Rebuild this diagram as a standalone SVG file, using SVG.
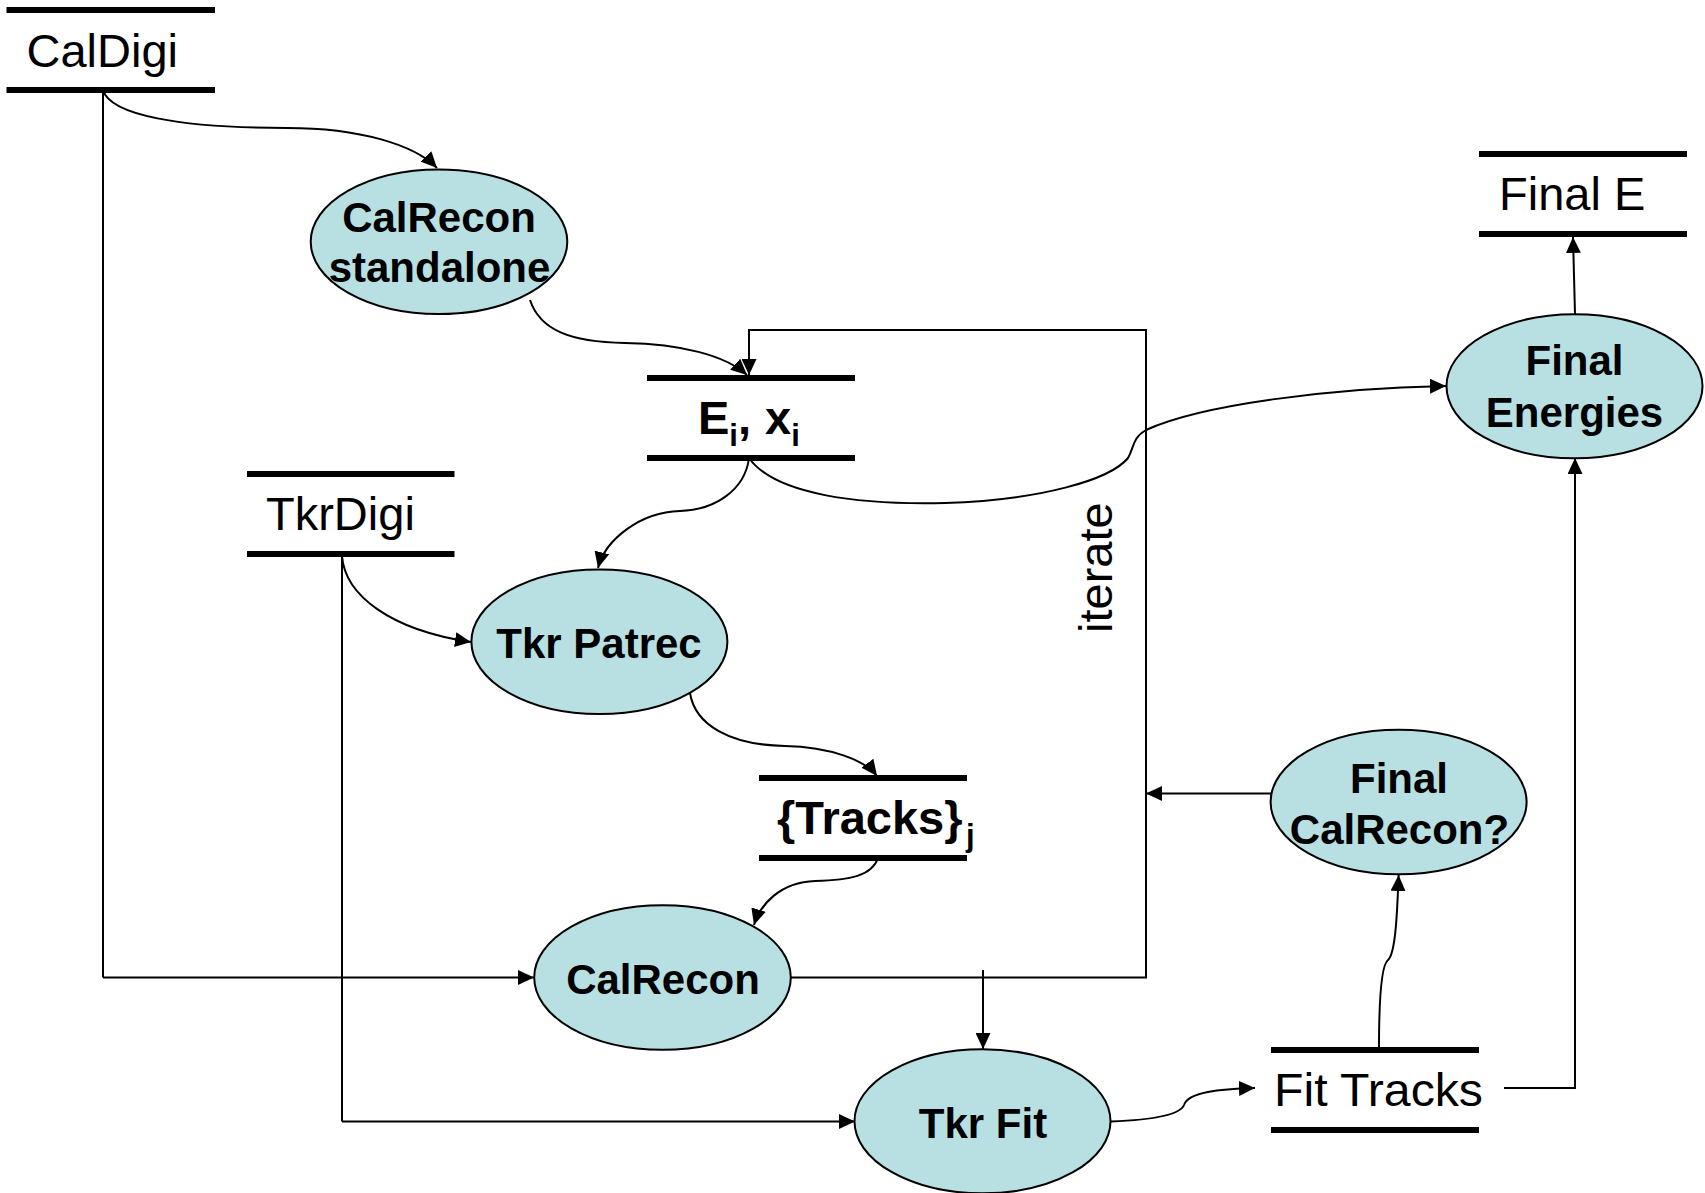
<svg xmlns="http://www.w3.org/2000/svg" width="1705" height="1193" viewBox="0 0 1705 1193">
<style>
.bg{fill:#ffffff}
.bar{stroke:#000;stroke-width:6;fill:none}
.node{fill:#B8E0E3;stroke:#000;stroke-width:2}
.conn{fill:none;stroke:#000;stroke-width:2;marker-end:url(#ah)}
.plain{fill:none;stroke:#000;stroke-width:2}
.store{font-family:"Liberation Sans",Arial,sans-serif;font-size:47px;fill:#000}
.bstore{font-family:"Liberation Sans",Arial,sans-serif;font-size:47px;font-weight:bold;fill:#000}
.lbl{font-family:"Liberation Sans",Arial,sans-serif;font-size:42px;font-weight:bold;fill:#000;text-anchor:middle}
</style>
<defs>
<marker id="ah" markerUnits="userSpaceOnUse" markerWidth="17" markerHeight="15" viewBox="0 0 17 15" refX="16" refY="7.5" orient="auto">
<path d="M0,0 L16,7.5 L0,15 z" fill="#000"/>
</marker>
</defs>
<rect class="bg" x="0" y="0" width="1705" height="1193"/>

<g id="connectors">
<path class="conn" d="M103,90 C110,115 180,128 287,128 C360,128 415,145 437,168"/>
<path class="plain" d="M103,90 L103,977.5"/>
<path class="conn" d="M103,977.5 L534,977.5"/>
<path class="conn" d="M530,300 C540,330 570,342 625,343 C680,344 725,355 747,375"/>
<path class="conn" d="M790.5,977.5 L1146,977.5 L1146,330 L749,330 L749,375"/>
<path class="conn" d="M749,458 C745,490 715,510 680,511 C640,512 605,540 598,568"/>
<path class="conn" d="M749,458 C775,495 860,505 945,503 C1040,500 1110,480 1128,458 C1134,448 1132,438 1146,430 C1200,405 1330,388 1446,386"/>
<path class="conn" d="M342,556 C345,595 390,630 471,642"/>
<path class="plain" d="M342,554 L342,1121.5"/>
<path class="conn" d="M342,1121.5 L855,1121.5"/>
<path class="conn" d="M690,693 C695,725 730,745 785,746 C830,747 865,760 877,776"/>
<path class="conn" d="M878,858 C872,876 850,880 815,881 C780,882 760,905 754,925"/>
<path class="conn" d="M983,970 L983,1049"/>
<path class="conn" d="M1111,1121.5 C1150,1120 1180,1115 1184,1105 C1188,1092 1220,1089 1255,1088"/>
<path class="conn" d="M1379,1048 C1379,1000 1381,965 1388,960 C1395,954 1397,920 1398.6,875"/>
<path class="conn" d="M1504,1088 L1575,1088 L1575,458"/>
<path class="conn" d="M1271,793.5 L1146,793.5"/>
<path class="conn" d="M1575,314 L1573,237"/>
<text class="store" transform="translate(1112,633) rotate(-90)" x="0" y="0">iterate</text>
</g>

<g id="CalDigi">
<line class="bar" x1="6.5" y1="10" x2="215" y2="10"/>
<line class="bar" x1="6.5" y1="90" x2="215" y2="90"/>
<text class="store" x="26.5" y="66.5">CalDigi</text>
</g>

<g id="TkrDigi">
<line class="bar" x1="247" y1="474" x2="454.5" y2="474"/>
<line class="bar" x1="247" y1="554" x2="454.5" y2="554"/>
<text class="store" x="266" y="530">TkrDigi</text>
</g>

<g id="EiXi">
<line class="bar" x1="647" y1="378" x2="855" y2="378"/>
<line class="bar" x1="647" y1="458" x2="855" y2="458"/>
<text class="bstore" x="698" y="434">E<tspan font-size="31" dy="12">i</tspan><tspan dy="-12">, </tspan><tspan x="765">x</tspan><tspan font-size="31" dy="12">i</tspan></text>
</g>

<g id="Tracks">
<line class="bar" x1="759" y1="778" x2="967" y2="778"/>
<line class="bar" x1="759" y1="858" x2="967" y2="858"/>
<text class="bstore" x="777" y="834">{Tracks}<tspan font-size="31" x="966" dy="12">j</tspan></text>
</g>

<g id="FinalE">
<line class="bar" x1="1479" y1="154" x2="1687" y2="154"/>
<line class="bar" x1="1479" y1="234" x2="1687" y2="234"/>
<text class="store" x="1499" y="210">Final E</text>
</g>

<g id="FitTracks">
<line class="bar" x1="1271" y1="1050" x2="1479" y2="1050"/>
<line class="bar" x1="1271" y1="1130" x2="1479" y2="1130"/>
<text class="store" x="1274" y="1106" textLength="209" lengthAdjust="spacingAndGlyphs">Fit Tracks</text>
</g>

<g id="CalReconStandalone">
<ellipse class="node" cx="439" cy="241.7" rx="128.3" ry="72.3"/>
<text class="lbl" x="439" y="232">CalRecon</text>
<text class="lbl" x="439.5" y="282">standalone</text>
</g>

<g id="TkrPatrec">
<ellipse class="node" cx="599.4" cy="641.7" rx="128" ry="72.3"/>
<text class="lbl" x="599" y="658">Tkr Patrec</text>
</g>

<g id="CalRecon">
<ellipse class="node" cx="662.5" cy="977.5" rx="128.3" ry="72.3"/>
<text class="lbl" x="663" y="994">CalRecon</text>
</g>

<g id="TkrFit">
<ellipse class="node" cx="982.5" cy="1121.3" rx="128" ry="72"/>
<text class="lbl" x="983" y="1137.5">Tkr Fit</text>
</g>

<g id="FinalEnergies">
<ellipse class="node" cx="1574.5" cy="386.3" rx="128" ry="72"/>
<text class="lbl" x="1574.5" y="375">Final</text>
<text class="lbl" x="1574.5" y="426.7">Energies</text>
</g>

<g id="FinalCalRecon">
<ellipse class="node" cx="1398.6" cy="802" rx="128" ry="72.2"/>
<text class="lbl" x="1399" y="793">Final</text>
<text class="lbl" x="1399.5" y="843.5">CalRecon?</text>
</g>
</svg>
